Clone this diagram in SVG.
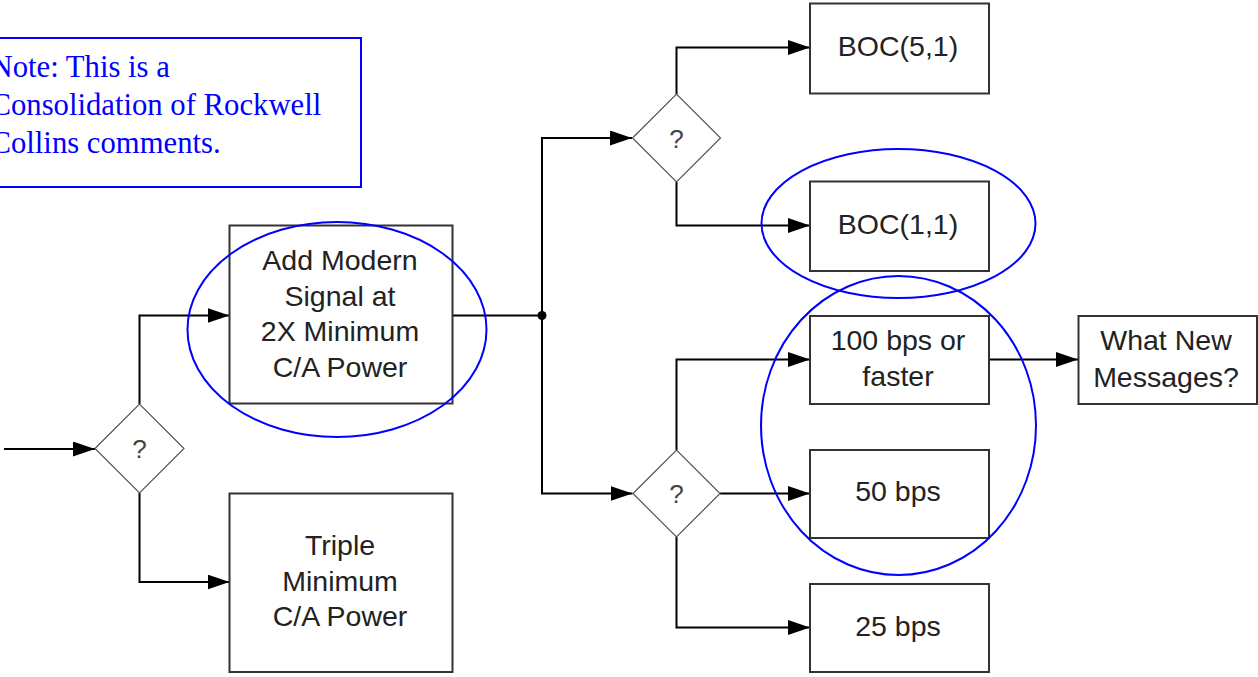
<svg xmlns="http://www.w3.org/2000/svg" width="1258" height="677" viewBox="0 0 1258 677">
<style>
.box{fill:#fff;stroke:#333;stroke-width:2}
.dia{fill:#fff;stroke:#555;stroke-width:1.2}
.t{font-family:"Liberation Sans",Arial,sans-serif;font-size:28.5px;fill:#222;text-anchor:middle}
.q{font-family:"Liberation Sans",Arial,sans-serif;font-size:26px;fill:#444;text-anchor:middle}
.c{fill:none;stroke:#000;stroke-width:2;marker-end:url(#ah)}
.ring{fill:none;stroke:#0000ff;stroke-width:2}
.note{font-family:"Liberation Serif","Times New Roman",serif;font-size:30.7px;fill:#0000ff}
</style>
<defs>
<marker id="ah" markerUnits="userSpaceOnUse" markerWidth="24" markerHeight="16" refX="22" refY="7.5" orient="auto">
<path d="M0,0 L22,7.5 L0,15 Z" fill="#000"/>
</marker>
</defs>
<rect width="1258" height="677" fill="#fff"/>
<g id="note">
<rect x="-2" y="38" width="363" height="149" fill="#fff" stroke="#0000ff" stroke-width="2"/>
<text class="note" x="-9.5" y="77">Note: This is a</text>
<text class="note" x="-9.5" y="114.5">Consolidation of Rockwell</text>
<text class="note" x="-9.5" y="152.5">Collins comments.</text>
</g>
<g id="connectors">
<path class="c" d="M4,449 H95"/>
<path class="c" d="M139.5,404 V315.5 H229.5"/>
<path class="c" d="M139.5,493 V582 H229.5"/>
<path class="c" d="M452.5,315.5 H542 V138 H632"/>
<path class="c" d="M542,315.5 V493.5 H632.5"/>
<circle cx="542" cy="315.5" r="4.5" fill="#000"/>
<path class="c" d="M676.5,94 V47.5 H810"/>
<path class="c" d="M676.5,182 V225.5 H810"/>
<path class="c" d="M676.5,450 V359.5 H810"/>
<path class="c" d="M720,493.5 H810"/>
<path class="c" d="M676.5,537 V627.5 H810"/>
<path class="c" d="M989,359.5 H1078"/>
</g>
<g id="d1"><path class="dia" d="M95,448.5 L139.5,404 L184,448.5 L139.5,493 Z"/><text class="q" x="139.5" y="458">?</text></g>
<g id="d2"><path class="dia" d="M632.5,138 L676.5,94 L720.5,138 L676.5,182 Z"/><text class="q" x="676.5" y="147.5">?</text></g>
<g id="d3"><path class="dia" d="M633,493.5 L676.5,450 L720,493.5 L676.5,537 Z"/><text class="q" x="676.5" y="503">?</text></g>
<g id="addModern"><rect class="box" x="229.5" y="225.5" width="223" height="178"/>
<text class="t" x="340" y="270">Add Modern</text><text class="t" x="340" y="305.5">Signal at</text><text class="t" x="340" y="341">2X Minimum</text><text class="t" x="340" y="376.5">C/A Power</text></g>
<g id="triple"><rect class="box" x="229.5" y="493.5" width="223" height="178.5"/>
<text class="t" x="340" y="555">Triple</text><text class="t" x="340" y="590.5">Minimum</text><text class="t" x="340" y="626">C/A Power</text></g>
<g id="boc51"><rect class="box" x="810" y="3.5" width="179" height="90"/><text class="t" x="898" y="56">BOC(5,1)</text></g>
<g id="boc11"><rect class="box" x="810" y="181.5" width="179" height="89.5"/><text class="t" x="898" y="233.5">BOC(1,1)</text></g>
<g id="bps100"><rect class="box" x="810" y="316" width="179" height="88"/><text class="t" x="898" y="349.5">100 bps or</text><text class="t" x="898" y="386">faster</text></g>
<g id="bps50"><rect class="box" x="810" y="450" width="179" height="88"/><text class="t" x="898" y="500.5">50 bps</text></g>
<g id="bps25"><rect class="box" x="810" y="584" width="179" height="88"/><text class="t" x="898" y="635.5">25 bps</text></g>
<g id="whatNew"><rect class="box" x="1078.5" y="316" width="178.5" height="88"/><text class="t" x="1166" y="349.5">What New</text><text class="t" x="1166" y="386.5">Messages?</text></g>
<g id="highlights">
<ellipse class="ring" cx="337" cy="329.5" rx="149.5" ry="107.5"/>
<ellipse class="ring" cx="898.5" cy="223.5" rx="137" ry="74.5"/>
<ellipse class="ring" cx="898.5" cy="425.5" rx="137.5" ry="149.5"/>
</g>
</svg>
